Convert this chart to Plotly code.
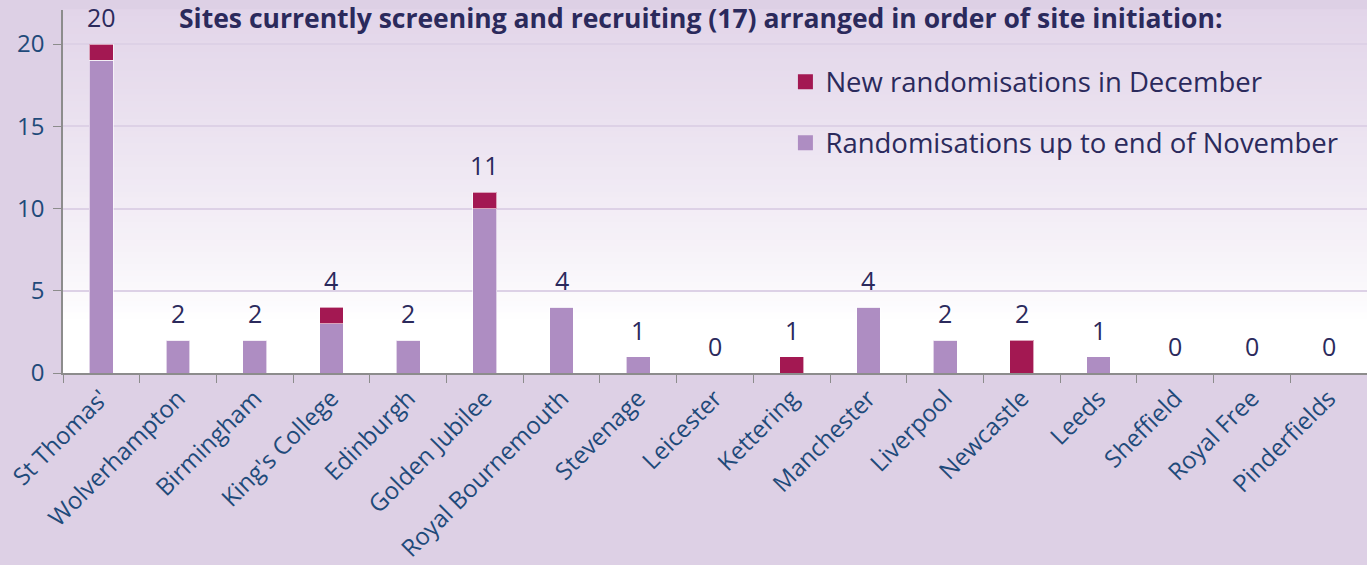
import plotly.graph_objects as go

sites = ["St Thomas'", "Wolverhampton", "Birmingham", "King's College", "Edinburgh",
         "Golden Jubilee", "Royal Bournemouth", "Stevenage", "Leicester", "Kettering",
         "Manchester", "Liverpool", "Newcastle", "Leeds", "Sheffield", "Royal Free",
         "Pinderfields"]
upto_november = [19, 2, 2, 3, 2, 10, 4, 1, 0, 0, 4, 2, 0, 1, 0, 0, 0]
new_december = [1, 0, 0, 1, 0, 1, 0, 0, 0, 1, 0, 0, 2, 0, 0, 0, 0]
totals = [20, 2, 2, 4, 2, 11, 4, 1, 0, 1, 4, 2, 2, 1, 0, 0, 0]
y_ticks = [0, 5, 10, 15, 20]

title_text = "Sites currently screening and recruiting (17) arranged in order of site initiation:"
nov_name = "Randomisations up to end of November"
dec_name = "New randomisations in December"
FONT = "Open Sans"
NAVY = "#2b2a5c"
TICKBLUE = "#1f4a7a"
LILAC = "#ae8dc2"
CRIMSON = "#a31852"

fig = go.Figure()
fig.add_trace(go.Bar(x=sites, y=upto_november, name=nov_name, showlegend=False,
                     marker=dict(color=LILAC, line=dict(color="rgba(255,255,255,0.6)", width=1))))
fig.add_trace(go.Bar(x=sites, y=new_december, name=dec_name, showlegend=False,
                     marker=dict(color=CRIMSON, line=dict(color="rgba(255,255,255,0.6)", width=1))))
# legend entries with larger square swatches
fig.add_trace(go.Scatter(x=[None], y=[None], mode="markers", name=dec_name, legend="legend",
                         marker=dict(symbol="square", size=15, color=CRIMSON)))
fig.add_trace(go.Scatter(x=[None], y=[None], mode="markers", name=nov_name, legend="legend2",
                         marker=dict(symbol="square", size=15, color=LILAC)))

# gradient background inside plot area
def lerp(c1, c2, t):
    return tuple(round(a + (b - a) * t) for a, b in zip(c1, c2))

top = (0xE2, 0xD5, 0xE9)
white = (0xFF, 0xFF, 0xFF)
shapes = []
n = 60
for i in range(n):
    y0 = i / n
    y1 = (i + 1) / n
    ym = (y0 + y1) / 2
    t = 0 if ym < 0.15 else min(1, (ym - 0.15) / 0.85) ** 0.8
    c = lerp(white, top, t)
    shapes.append(dict(type="rect", xref="paper", yref="paper", x0=0, x1=1, y0=y0, y1=y1 + 0.002,
                       fillcolor="rgb(%d,%d,%d)" % c, line=dict(width=0), layer="below"))

annotations = [dict(x=s, y=t, text=str(t), showarrow=False, yanchor="bottom", yshift=8,
                    font=dict(family=FONT, size=25, color=NAVY)) for s, t in zip(sites, totals)]
annotations.append(dict(xref="paper", yref="paper", x=0.489, y=1, yanchor="top", yshift=12,
                        text="<b>" + title_text + "</b>", showarrow=False,
                        font=dict(family=FONT, size=26.5, color=NAVY)))

fig.update_layout(
    width=1367, height=565,
    margin=dict(l=63, r=0, t=10, b=192),
    paper_bgcolor="#ddd0e5",
    plot_bgcolor="rgba(0,0,0,0)",
    barmode="stack",
    bargap=0.69,
    shapes=shapes,
    annotations=annotations,
    showlegend=True,
    font=dict(family=FONT),
    legend=dict(x=0.554, y=0.802, xanchor="left", yanchor="middle", bgcolor="rgba(0,0,0,0)",
                itemwidth=30, font=dict(family=FONT, size=27.5, color=NAVY)),
    legend2=dict(x=0.554, y=0.634, xanchor="left", yanchor="middle", bgcolor="rgba(0,0,0,0)",
                 itemwidth=30, font=dict(family=FONT, size=27.5, color=NAVY)),
    xaxis=dict(tickangle=-45, tickfont=dict(family=FONT, size=24, color=TICKBLUE),
               showline=True, linecolor="#8c8c8c", linewidth=1.5,
               ticks="outside", tickson="boundaries", ticklen=8, tickcolor="#8c8c8c",
               showgrid=False),
    yaxis=dict(range=[0, 22.07], tickvals=y_ticks, tickfont=dict(family=FONT, size=24, color=TICKBLUE),
               showline=True, linecolor="#8c8c8c", linewidth=1.5,
               ticks="outside", ticklen=8, tickcolor="#8c8c8c", ticklabelstandoff=4,
               showgrid=True, gridcolor="#ddd1e6", gridwidth=1.5, zeroline=False),
)

fig.write_html("out.html", config={"displayModeBar": False},
               post_script="document.body.style.margin='0';document.body.style.padding='0';"
                           "document.body.style.overflow='hidden';")
